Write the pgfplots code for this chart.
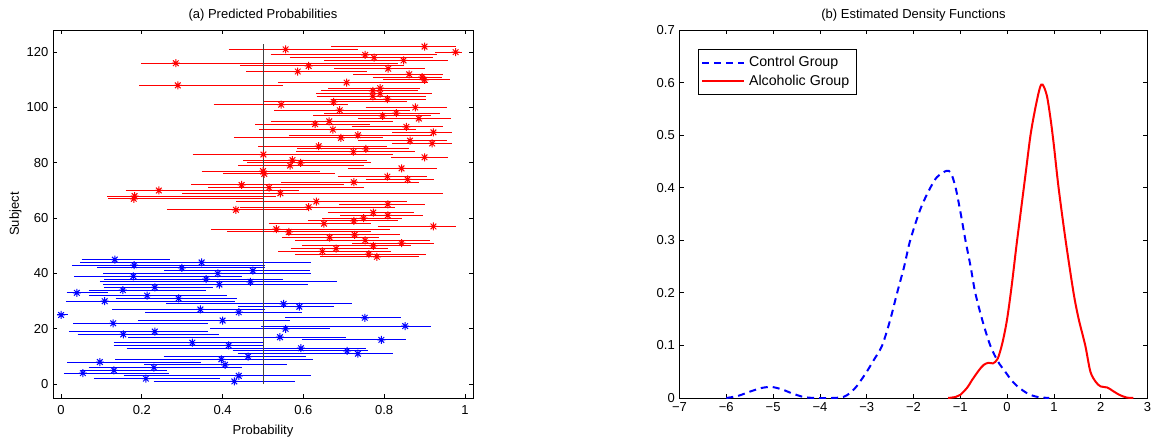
\documentclass[border=0pt]{standalone}
\usepackage{pgfplots}
\usepackage{pgfplotstable}
\pgfplotsset{compat=1.18}
\usepackage{fontspec}
\setmainfont{Liberation Sans}

% MATLAB-like eight-pointed asterisk
\pgfdeclareplotmark{mstar}{%
  \pgfpathmoveto{\pgfqpoint{-\pgfplotmarksize}{0pt}}\pgfpathlineto{\pgfqpoint{\pgfplotmarksize}{0pt}}%
  \pgfpathmoveto{\pgfqpoint{0pt}{-\pgfplotmarksize}}\pgfpathlineto{\pgfqpoint{0pt}{\pgfplotmarksize}}%
  \pgfpathmoveto{\pgfqpoint{-.707\pgfplotmarksize}{-.707\pgfplotmarksize}}\pgfpathlineto{\pgfqpoint{.707\pgfplotmarksize}{.707\pgfplotmarksize}}%
  \pgfpathmoveto{\pgfqpoint{-.707\pgfplotmarksize}{.707\pgfplotmarksize}}\pgfpathlineto{\pgfqpoint{.707\pgfplotmarksize}{-.707\pgfplotmarksize}}%
  \pgfusepathqstroke}

% subject, predicted probability, interval low, interval high
\pgfplotstableread{
y p lo hi
122 0.900 0.669 0.977
121 0.556 0.415 0.736
120 0.977 0.927 0.992
119 0.753 0.519 0.932
118 0.775 0.566 0.922
117 0.848 0.652 0.957
116 0.284 0.198 0.835
115 0.613 0.443 0.850
114 0.810 0.677 0.901
113 0.586 0.458 0.757
112 0.862 0.724 0.946
111 0.894 0.772 0.944
110 0.900 0.798 0.964
109 0.707 0.537 0.909
108 0.289 0.194 0.550
107 0.790 0.662 0.889
106 0.772 0.643 0.885
105 0.790 0.631 0.918
104 0.772 0.633 0.903
103 0.808 0.669 0.903
102 0.675 0.501 0.857
101 0.545 0.378 0.710
100 0.877 0.754 0.955
99 0.690 0.528 0.864
98 0.830 0.652 0.939
97 0.796 0.625 0.917
96 0.886 0.735 0.965
95 0.664 0.519 0.823
94 0.629 0.481 0.765
93 0.855 0.720 0.946
92 0.673 0.491 0.880
91 0.922 0.820 0.969
90 0.735 0.564 0.918
89 0.693 0.428 0.798
88 0.864 0.736 0.955
87 0.919 0.819 0.969
86 0.638 0.488 0.806
85 0.755 0.585 0.861
84 0.724 0.582 0.876
83 0.501 0.326 0.821
82 0.900 0.817 0.959
81 0.573 0.451 0.757
80 0.593 0.461 0.768
79 0.567 0.439 0.749
78 0.843 0.711 0.930
77 0.500 0.348 0.641
76 0.503 0.402 0.679
75 0.808 0.685 0.906
74 0.858 0.755 0.924
73 0.725 0.544 0.887
72 0.447 0.322 0.701
71 0.515 0.364 0.749
70 0.242 0.160 0.589
69 0.543 0.300 0.946
68 0.182 0.114 0.532
67 0.180 0.117 0.501
66 0.632 0.434 0.857
65 0.809 0.688 0.901
64 0.613 0.442 0.827
63 0.433 0.262 0.613
62 0.773 0.660 0.875
61 0.809 0.691 0.897
60 0.749 0.647 0.844
59 0.725 0.611 0.835
58 0.651 0.514 0.768
57 0.922 0.784 0.979
56 0.533 0.371 0.815
55 0.564 0.411 0.768
54 0.727 0.556 0.838
53 0.665 0.547 0.786
52 0.753 0.579 0.913
51 0.843 0.721 0.924
50 0.773 0.596 0.867
49 0.681 0.569 0.810
48 0.647 0.538 0.818
47 0.762 0.579 0.904
46 0.782 0.641 0.886
}\alctab

\pgfplotstableread{
y p lo hi
45 0.133 0.051 0.269
44 0.348 0.048 0.618
43 0.181 0.028 0.505
42 0.299 0.089 0.505
41 0.475 0.256 0.617
40 0.388 0.104 0.618
39 0.179 0.032 0.448
38 0.359 0.107 0.550
37 0.469 0.096 0.684
36 0.392 0.105 0.612
35 0.232 0.107 0.375
34 0.153 0.068 0.359
33 0.039 0.014 0.115
32 0.213 0.069 0.410
31 0.291 0.135 0.435
30 0.108 0.012 0.431
29 0.551 0.261 0.720
28 0.590 0.439 0.676
27 0.345 0.127 0.505
26 0.440 0.209 0.596
25 0.000 -0.010 0.017
24 0.752 0.555 0.842
23 0.400 0.190 0.567
22 0.129 0.030 0.364
21 0.852 0.496 0.916
20 0.556 0.369 0.666
19 0.232 0.019 0.364
18 0.154 0.041 0.392
17 0.542 0.166 0.705
16 0.793 0.596 0.853
15 0.325 0.130 0.501
14 0.415 0.130 0.501
13 0.594 0.162 0.754
12 0.708 0.425 0.760
11 0.735 0.437 0.823
10 0.463 0.254 0.606
9 0.397 0.134 0.624
8 0.096 0.015 0.347
7 0.406 0.206 0.560
6 0.230 0.068 0.449
5 0.131 0.049 0.262
4 0.054 0.007 0.266
3 0.440 0.155 0.618
2 0.210 0.081 0.394
1 0.429 0.229 0.580
}\contab

\begin{document}
\fontsize{6.5}{7.5}\selectfont
\begin{tikzpicture}
\useasboundingbox (0,0) rectangle (577pt,220pt);
\pgfplotsset{
  matlab/.style={
    scale only axis,
    anchor=south west,
    axis line style={line width=0.5pt},
    tick align=inside,
    tick pos=both,
    major tick length=2.2pt,
    tick style={line width=0.4pt, black},
    every tick label/.append style={font=\fontsize{6.5}{7.5}\selectfont},
    title style={font=\fontsize{6.5}{7.5}\selectfont, yshift=-4pt},
    label style={font=\fontsize{6.5}{7.5}\selectfont},
  }
}
\begin{axis}[matlab,
  at={(26.5pt,21pt)}, width=210pt, height=184pt,
  xmin=-0.02, xmax=1.02, ymin=-5, ymax=128,
  xtick={0,0.2,0.4,0.6,0.8,1}, xticklabels={0,0.2,0.4,0.6,0.8,1},
  ytick={0,20,40,60,80,100,120}, yticklabels={0,20,40,60,80,100,120},
  title={(a) Predicted Probabilities},
  xlabel={Probability}, ylabel={Subject},
  xlabel style={yshift=-0.5pt}, ylabel style={yshift=-2pt},
  xticklabel style={yshift=-1.5pt},
]
% interval bars: segments from lo to hi
\addplot[red, line width=0.5pt, mark=none, quiver={u=\thisrow{hi}-\thisrow{lo}, v=0}]
  table[x=lo, y=y] {\alctab};
\addplot[blue, line width=0.5pt, mark=none, quiver={u=\thisrow{hi}-\thisrow{lo}, v=0}]
  table[x=lo, y=y] {\contab};
\addplot[red, only marks, mark=mstar, mark size=2pt, mark options={line width=0.5pt}]
  table[x=p, y=y] {\alctab};
\addplot[blue, only marks, mark=mstar, mark size=2pt, mark options={line width=0.5pt}]
  table[x=p, y=y] {\contab};
\addplot[black!75, line width=0.5pt] coordinates {(0.5,0) (0.5,123)};
\end{axis}

\begin{axis}[matlab,
  at={(339.75pt,21pt)}, width=234pt, height=184pt,
  xmin=-7, xmax=3, ymin=0, ymax=0.7,
  xtick={-7,-6,-5,-4,-3,-2,-1,0,1,2,3},
  xticklabels={−7,−6,−5,−4,−3,−2,−1,0,1,2,3},
  ytick={0,0.1,0.2,0.3,0.4,0.5,0.6,0.7},
  yticklabels={0,0.1,0.2,0.3,0.4,0.5,0.6,0.7},
  title={(b) Estimated Density Functions},
  legend style={at={(0.0385,0.948)}, anchor=north west, draw=black, line width=0.5pt,
    font=\fontsize{7.1}{8}\selectfont, inner sep=1.5pt, row sep=-1pt,
    legend cell align=left},
  legend image code/.code={\draw[#1] (0pt,0pt) -- (21pt,0pt);},
]
\addplot[blue, line width=1pt, dash pattern=on 3.5pt off 2.5pt, smooth] coordinates {
(-6,0) (-5.75,0.004) (-5.5,0.012) (-5.25,0.019) (-5.03,0.021) (-4.8,0.016) (-4.6,0.009)
(-4.35,0.002) (-4.1,0) (-3.75,0) (-3.5,0.002) (-3.35,0.01) (-3.2,0.024) (-3.0,0.05)
(-2.85,0.072) (-2.67,0.1) (-2.5,0.148) (-2.35,0.2) (-2.2,0.25) (-2.07,0.3) (-1.85,0.36)
(-1.64,0.4) (-1.5,0.42) (-1.3,0.432) (-1.2,0.428) (-1.1,0.4) (-1.0,0.355) (-0.89,0.3)
(-0.78,0.25) (-0.68,0.2) (-0.52,0.145) (-0.36,0.1) (-0.2,0.07) (-0.04,0.05) (0.1,0.033)
(0.25,0.02) (0.45,0.008) (0.65,0.002) (0.9,0)
};
\addlegendentry{Control Group}
\addplot[red, line width=1pt, smooth] coordinates {
(-1.26,0) (-1.1,0.002) (-1.0,0.006) (-0.85,0.02) (-0.75,0.034) (-0.6,0.053) (-0.5,0.063)
(-0.4,0.067) (-0.3,0.066) (-0.2,0.075) (-0.1,0.105) (0,0.15) (0.1,0.215) (0.2,0.29)
(0.3,0.36) (0.4,0.43) (0.5,0.5) (0.6,0.55) (0.7,0.59) (0.76,0.596) (0.85,0.575)
(0.93,0.53) (1.0,0.48) (1.1,0.4) (1.25,0.3) (1.42,0.2) (1.53,0.15) (1.67,0.1)
(1.78,0.05) (1.9,0.03) (2.0,0.022) (2.14,0.02) (2.25,0.014) (2.4,0.006) (2.55,0.001) (2.7,0)
};
\addlegendentry{Alcoholic Group}
\end{axis}
\end{tikzpicture}
\end{document}
